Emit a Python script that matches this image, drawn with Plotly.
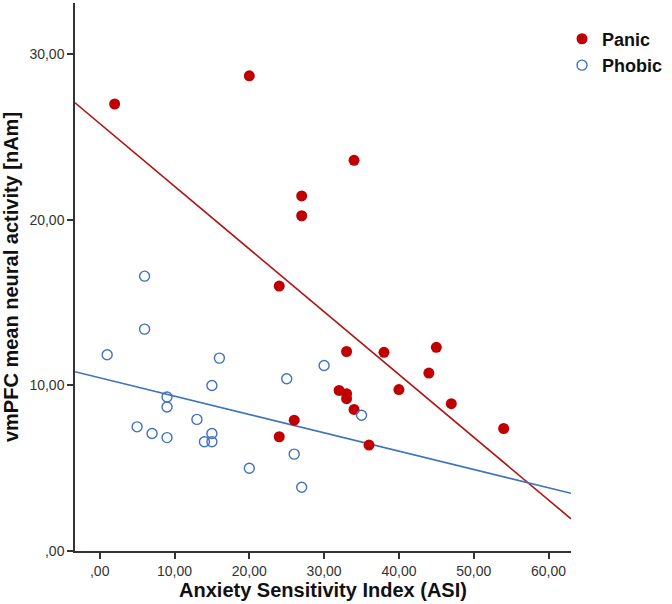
import plotly.graph_objects as go

# Panic group (filled red)
panic_asi = [2, 20, 27, 27, 24, 34, 24, 26, 32, 33, 38, 45, 44, 40, 33, 33, 34, 47, 54, 36]
panic_vmpfc = [27.0, 28.7, 21.45, 20.25, 16.0, 23.6, 6.9, 7.9, 9.7, 12.05, 12.0, 12.3, 10.75, 9.75, 9.5, 9.2, 8.55, 8.9, 7.4, 6.4]

# Phobic group (open blue)
phobic_asi = [6, 6, 1, 16, 30, 25, 15, 9, 9, 13, 5, 7, 9, 15, 14, 15, 26, 20, 27, 35]
phobic_vmpfc = [16.6, 13.4, 11.85, 11.65, 11.2, 10.4, 10.0, 9.3, 8.7, 7.95, 7.5, 7.1, 6.85, 7.1, 6.6, 6.6, 5.85, 5.0, 3.85, 8.2]

# Fit lines (intercept, slope)
panic_fit = (25.82, -0.379)
phobic_fit = (10.46, -0.1107)

x_range = [-3.3, 63.0]
y_range = [0, 33.1]

x_tickvals = [0, 10, 20, 30, 40, 50, 60]
x_ticktext = [",00", "10,00", "20,00", "30,00", "40,00", "50,00", "60,00"]
y_tickvals = [0, 10, 20, 30]
y_ticktext = [",00", "10,00", "20,00", "30,00"]

RED = "#C00000"
BLUE = "#3F72BF"
FONT = "Liberation Sans, Arial, sans-serif"

fig = go.Figure()

def fit_line(fit, color):
    a, b = fit
    xs = x_range
    ys = [a + b * x for x in xs]
    return go.Scatter(x=xs, y=ys, mode="lines", line=dict(color=color, width=1.6),
                      showlegend=False, hoverinfo="skip", cliponaxis=True)

fig.add_trace(fit_line(panic_fit, "#B01515"))
fig.add_trace(fit_line(phobic_fit, BLUE))

fig.add_trace(go.Scatter(
    x=panic_asi, y=panic_vmpfc, mode="markers", name="Panic",
    marker=dict(symbol="circle", size=11, color=RED, line=dict(width=0)),
    cliponaxis=False))
fig.add_trace(go.Scatter(
    x=phobic_asi, y=phobic_vmpfc, mode="markers", name="Phobic",
    marker=dict(symbol="circle-open", size=10, color=BLUE, line=dict(width=1.4)),
    cliponaxis=False))

fig.update_layout(
    width=672, height=604,
    margin=dict(l=75, r=101, t=3, b=53),
    paper_bgcolor="white", plot_bgcolor="white",
    font=dict(family=FONT, color="#222"),
    showlegend=True,
    legend=dict(x=0.9819, y=0.968, xanchor="left", yanchor="top",
                font=dict(size=18, color="#111", weight="bold"), bgcolor="rgba(0,0,0,0)",
                itemwidth=30, tracegroupgap=0),
    xaxis=dict(range=x_range, tickvals=x_tickvals, ticktext=x_ticktext, automargin=False,
               showgrid=False, zeroline=False, showline=True, linecolor="#333",
               linewidth=1.5, ticks="outside", ticklen=6, tickwidth=1.5, tickcolor="#333",
               tickfont=dict(size=14, color="#333"),
               title=dict(text="Anxiety Sensitivity Index (ASI)",
                          font=dict(size=20, color="#111", weight="bold"), standoff=2)),
    yaxis=dict(range=y_range, tickvals=y_tickvals, ticktext=y_ticktext, automargin=False,
               showgrid=False, zeroline=False, showline=True, linecolor="#333",
               linewidth=1.5, ticks="outside", ticklen=6, tickwidth=1.5, tickcolor="#333",
               tickfont=dict(size=14, color="#333"),
               title=dict(text="vmPFC mean neural activity [nAm]",
                          font=dict(size=20, color="#111", weight="bold"), standoff=8)),
)

fig.write_html("out.html", config={"displayModeBar": False},
               post_script="document.body.style.margin='0';document.body.style.overflow='hidden';")
